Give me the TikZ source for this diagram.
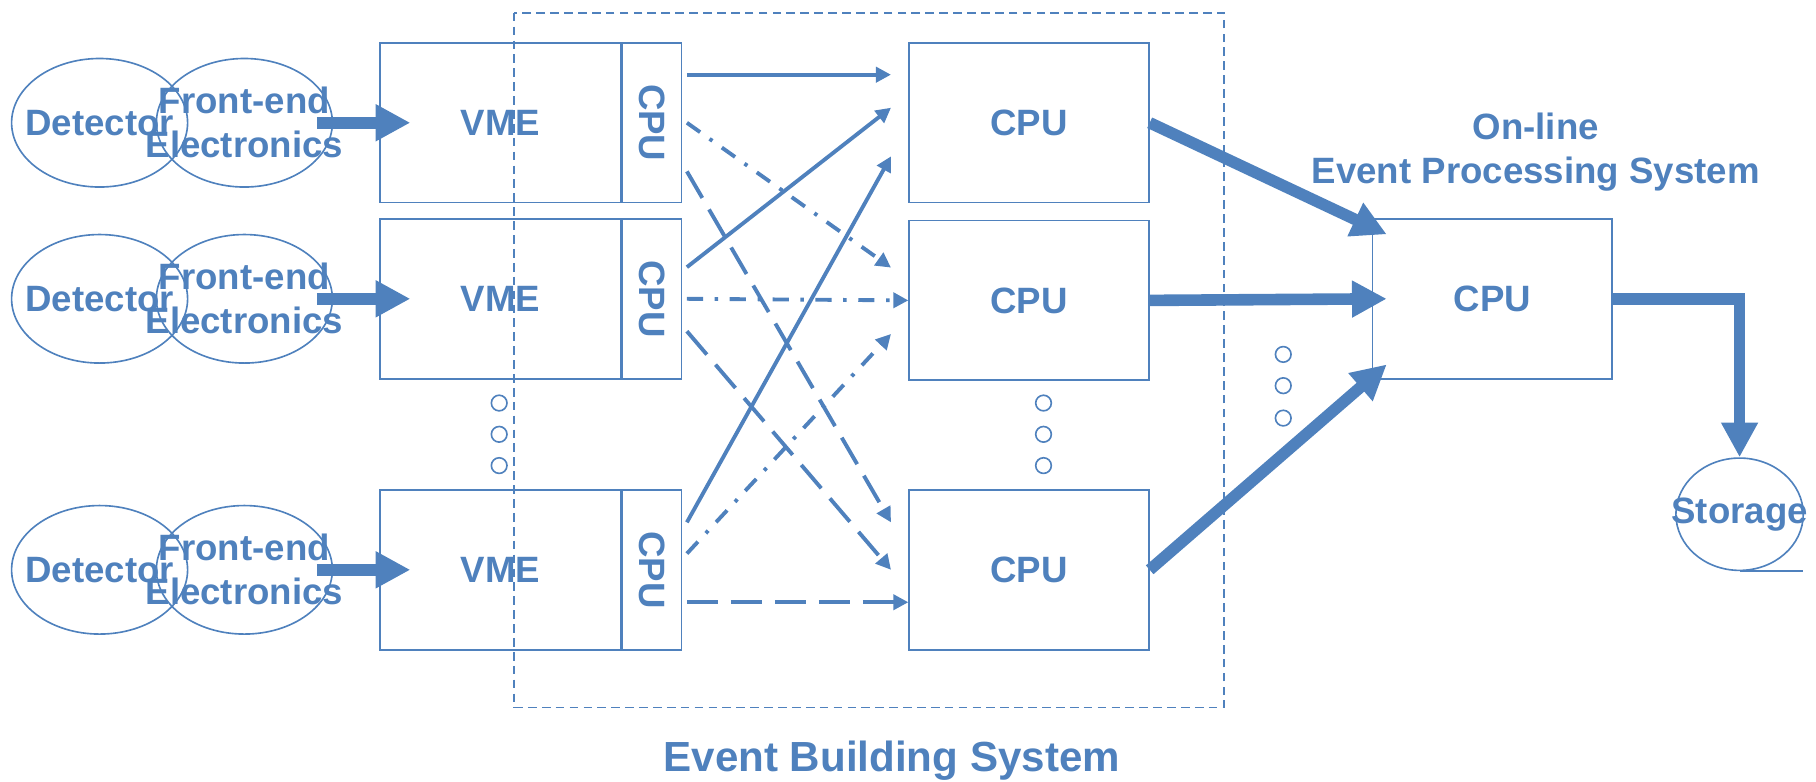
\documentclass[tikz,border=0pt]{standalone}
\usepackage{fontspec}
\setmainfont{Liberation Sans}
\usetikzlibrary{shapes.geometric, arrows.meta, positioning, calc}
\definecolor{ebblue}{RGB}{79, 129, 189}

\begin{document}
\begin{tikzpicture}[x=0.02cm, y=-0.02cm,
    txt/.style={text=ebblue, font=\fontsize{18}{21.6}\selectfont\bfseries, align=center, inner sep=0pt},
    box/.style={txt, draw=ebblue, line width=0.8pt, rectangle, minimum height=2.76cm},
    ring/.style={draw=ebblue, line width=0.8pt, ellipse, minimum width=3.04cm, minimum height=2.22cm, inner sep=0pt},
    dot/.style={draw=ebblue, line width=0.8pt, circle, minimum size=0.27cm, inner sep=0pt},
    flow/.style={ebblue, line width=1.9pt, -{Triangle[length=0.26cm, width=0.26cm]}},
    flowdd/.style={flow, dash pattern=on 0.28cm off 0.2cm on 0.06cm off 0.2cm},
    flowld/.style={flow, dash pattern=on 0.53cm off 0.23cm},
    bigflow/.style={ebblue, line width=5.7pt, -{Triangle[length=0.6cm, width=0.6cm]}}]
    \useasboundingbox (0,0) rectangle (1568,675);

    % Event building frame
    \draw[ebblue, line width=0.8pt, dash pattern=on 0.15cm off 0.09cm] (444,11) rectangle (1057,611);
    \node[txt, font=\fontsize{20.7}{25}\selectfont\bfseries] (ebslbl) at (770,657) {Event Building System};

    % Detectors and front-ends
    \node[ring] (det1) at (86,106) {};
    \node[ring] (fe1) at (211,106) {};
    \node[ring] (det2) at (86,258) {};
    \node[ring] (fe2) at (211,258) {};
    \node[ring] (det3) at (86,492) {};
    \node[ring] (fe3) at (211,492) {};
    \node[txt] (detlbl1) at (det1) {Detector};
    \node[txt] (felbl1) at (fe1) {Front-end\\Electronics};
    \node[txt] (detlbl2) at (det2) {Detector};
    \node[txt] (felbl2) at (fe2) {Front-end\\Electronics};
    \node[txt] (detlbl3) at (det3) {Detector};
    \node[txt] (felbl3) at (fe3) {Front-end\\Electronics};

    % VME crates
    \node[box, minimum width=4.16cm] (vme1) at (432,106) {VME};
    \node[box, minimum width=1.02cm, right=0pt of vme1] (vcpu1) {\rotatebox{-90}{CPU}};
    \node[box, minimum width=4.16cm] (vme2) at (432,258) {VME};
    \node[box, minimum width=1.02cm, right=0pt of vme2] (vcpu2) {\rotatebox{-90}{CPU}};
    \node[box, minimum width=4.16cm] (vme3) at (432,492) {VME};
    \node[box, minimum width=1.02cm, right=0pt of vme3] (vcpu3) {\rotatebox{-90}{CPU}};

    % Builder CPUs
    \node[box, minimum width=4.14cm] (cpu1) at (888.5,106) {CPU};
    \node[box, minimum width=4.14cm, below=0.28cm of cpu1] (cpu2) {CPU};
    \node[box, minimum width=4.14cm] (cpu3) at (888.5,492) {CPU};

    % On-line processing and storage
    \node[box, minimum width=4.14cm] (proc) at (1288.5,258) {CPU};
    \node[txt] (epslbl) at (1326,131) {On-line\\Event Processing System};
    \node[ring, minimum width=2.2cm, minimum height=1.94cm] (sto) at (1502,444) {};
    \node[txt] (stolbl) at (sto) {Storage};
    \draw[ebblue, line width=0.8pt] (sto.south) -- ++(55,0);

    % Dots
    \node[dot] (vd1) at (431,348) {};
    \node[dot] (vd2) at (431,375) {};
    \node[dot] (vd3) at (431,402) {};
    \node[dot] (cd1) at (901,348) {};
    \node[dot] (cd2) at (901,375) {};
    \node[dot] (cd3) at (901,402) {};
    \node[dot] (pd1) at (1108,306) {};
    \node[dot] (pd2) at (1108,333) {};
    \node[dot] (pd3) at (1108,361) {};

    % Readout
    \draw[bigflow] ($(fe1.east)+(-14,0)$) -- ($(vme1.west)+(27,0)$);
    \draw[bigflow] ($(fe2.east)+(-14,0)$) -- ($(vme2.west)+(27,0)$);
    \draw[bigflow] ($(fe3.east)+(-14,0)$) -- ($(vme3.west)+(27,0)$);

    % Event building
    \draw[flow] ($(vcpu1.east)+(4,-41.5)$) -- ($(cpu1.west)+(-15,-41.5)$);
    \draw[flowdd] ($(vcpu1.east)+(4,0)$) -- ($(cpu2.west)+(-15,-28.3)$);
    \draw[flowld] ($(vcpu1.east)+(4,42)$) -- ($(cpu3.west)+(-15,-41)$);
    \draw[flow] ($(vcpu2.east)+(4,-27.3)$) -- ($(cpu1.west)+(-15,-13)$);
    \draw[flowdd] ($(vcpu2.east)+(4,0)$) -- (cpu2.west);
    \draw[flowld] ($(vcpu2.east)+(4,28)$) -- ($(cpu3.west)+(-15,0)$);
    \draw[flow] ($(vcpu3.east)+(4,-41)$) -- ($(cpu1.west)+(-15,29)$);
    \draw[flowdd] ($(vcpu3.east)+(4,-14)$) -- ($(cpu2.west)+(-15,29)$);
    \draw[flowld] ($(vcpu3.east)+(4,28)$) -- ($(cpu3.west)+(0,28)$);

    % Processing
    \draw[bigflow] (cpu1.east) -- ($(proc.north west)+(13,14)$);
    \draw[bigflow] (cpu2.east) -- ($(proc.west)+(13,0)$);
    \draw[bigflow] (cpu3.east) -- ($(proc.south west)+(13,-13)$);
    \draw[bigflow] (proc.east) -| (sto.north);
\end{tikzpicture}
\end{document}
